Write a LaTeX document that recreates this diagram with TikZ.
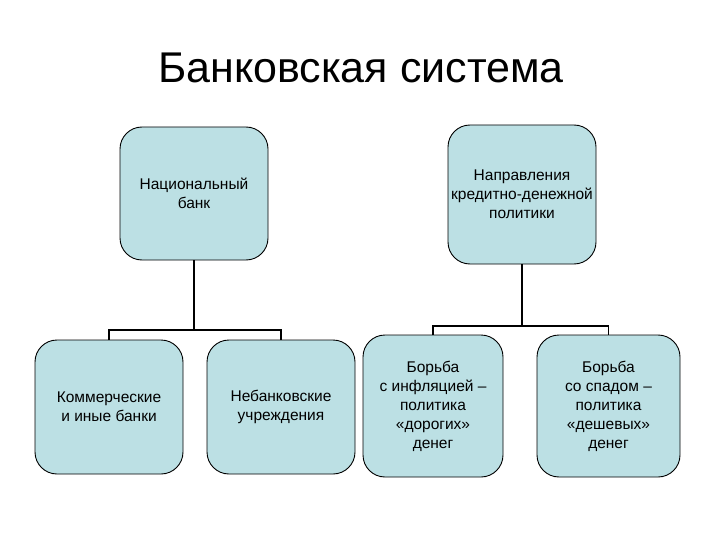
\documentclass[tikz,border=0pt]{standalone}
\usepackage{fontspec}
\setmainfont{Liberation Sans}
\begin{document}
\begin{tikzpicture}[x=1pt,y=-1pt,
  box/.style={draw=black,line width=0.9pt,fill=boxfill,rounded corners=22pt,inner sep=0pt,align=center,font=\fontsize{15.5}{19}\selectfont},
  conn/.style={line width=1.8pt}]
\definecolor{boxfill}{HTML}{BCE0E4}
\path[use as bounding box] (0,0) rectangle (720,540);
\node[font=\fontsize{43}{50}\selectfont] (t) at (361,68) {Банковская система};
\node[box,minimum width=148pt,minimum height=133pt] (nb) at (194,193.5) {Национальный\\банк};
\node[box,minimum width=148pt,minimum height=139pt] (np) at (522,194.5) {Направления\\кредитно-денежной\\политики};
\node[box,minimum width=148pt,minimum height=134pt] (kb) at (109,407) {Коммерческие\\и иные банки};
\node[box,minimum width=148pt,minimum height=134pt] (nu) at (281,407) {Небанковские\\учреждения};
\node[box,minimum width=140pt,minimum height=142pt] (bi) at (433,406) {Борьба\\с инфляцией –\\политика\\«дорогих»\\денег};
\node[box,minimum width=143pt,minimum height=142pt] (bs) at (608.5,406) {Борьба\\со спадом –\\политика\\«дешевых»\\денег};
\draw[conn] (nb.south) -- (194,330);
\draw[conn] (kb.north) -- (109,330) -- (281,330) -- (nu.north);
\draw[conn] (np.south) -- (522,326);
\draw[conn] (bi.north) -- (433,326) -- (608.5,326) -- (bs.north);
\end{tikzpicture}
\end{document}
